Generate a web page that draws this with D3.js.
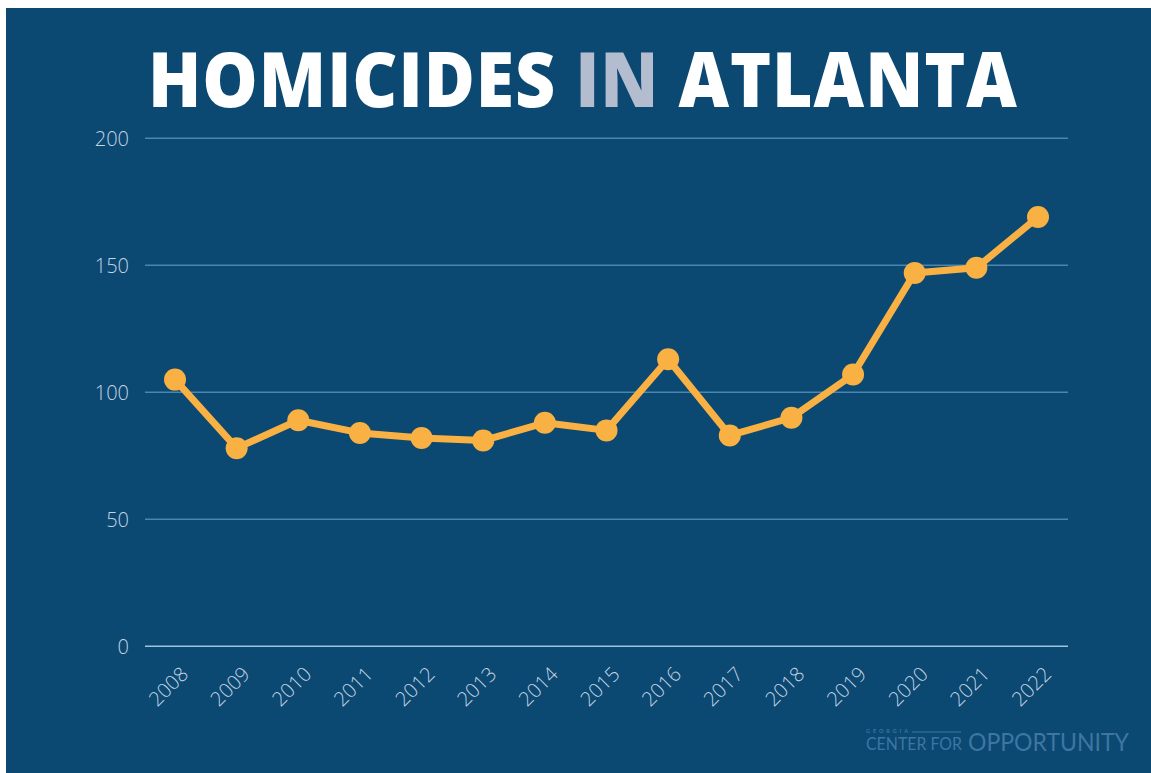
<!DOCTYPE html>
<html>
<head>
<meta charset="utf-8">
<script src="https://cdn.jsdelivr.net/npm/d3@7"></script>
<style>
  html, body { margin: 0; padding: 0; background: #ffffff; }
  svg { display: block; }
</style>
</head>
<body>
<svg id="chart" width="1151" height="773"></svg>
<script>
// Annual homicides recorded in Atlanta
const years = ["2008","2009","2010","2011","2012","2013","2014","2015","2016","2017","2018","2019","2020","2021","2022"];
const homicides = [105, 78, 89, 84, 82, 81, 88, 85, 113, 83, 90, 107, 147, 149, 169];
const yTicks = [0, 50, 100, 150, 200];
const titleParts = [
  { text: "HOMICIDES ", color: "#ffffff" },
  { text: "IN", color: "#b4bdd0" },
  { text: " ATLANTA", color: "#ffffff" }
];

const W = 1151, H = 773;
const svg = d3.select("#chart");

// panel background
svg.append("rect").attr("width", W).attr("height", H).attr("fill", "#ffffff");
svg.append("rect").attr("x", 6).attr("y", 8).attr("width", W - 6).attr("height", H - 8).attr("fill", "#0b4872");

// title
const title = svg.append("text")
  .attr("y", 107)
  .attr("font-family", "'Open Sans', sans-serif")
  .attr("font-weight", 800)
  .attr("font-size", 76)
  .attr("letter-spacing", 1);
title.selectAll("tspan").data(titleParts).join("tspan")
  .attr("fill", d => d.color)
  .attr("xml:space", "preserve")
  .text(d => d.text);
// stretch the title to span its full width
{
  const targetLeft = 148, targetWidth = 870;
  const w = title.node().getComputedTextLength();
  title.attr("transform", `translate(${targetLeft},0) scale(${targetWidth / w},1)`);
}

// scales
const x = d3.scalePoint().domain(years).range([175, 1038]);
const y = d3.scaleLinear().domain([0, 200]).range([646.3, 138.3]);

// horizontal grid
const grid = svg.append("g");
grid.selectAll("line").data(yTicks).join("line")
  .attr("x1", 145).attr("x2", 1068)
  .attr("y1", d => y(d)).attr("y2", d => y(d))
  .attr("stroke", d => d === 0 ? "#9fc4de" : "#4b86ae")
  .attr("stroke-width", 1.5);

// y axis labels
const yAxis = svg.append("g")
  .attr("transform", "translate(129,0)")
  .call(d3.axisLeft(y).tickValues(yTicks).tickSize(0).tickPadding(0));
yAxis.select(".domain").remove();
yAxis.selectAll("text")
  .attr("fill", "#c3d4e3")
  .attr("font-family", "'Open Sans', sans-serif")
  .attr("font-weight", 300)
  .attr("font-size", 20)
  .attr("dy", "0.35em");

// x axis labels, rotated
const xAxis = svg.append("g")
  .attr("transform", "translate(0,646.3)")
  .call(d3.axisBottom(x).tickSize(0).tickPadding(0));
xAxis.select(".domain").remove();
xAxis.selectAll("text")
  .attr("fill", "#c3d4e3")
  .attr("font-family", "'Open Sans', sans-serif")
  .attr("font-weight", 300)
  .attr("font-size", 20)
  .attr("text-anchor", "end")
  .attr("dy", null)
  .attr("y", 0)
  .attr("transform", "translate(14,29) rotate(-45)");

// line and markers
const line = d3.line().x((d, i) => x(years[i])).y(d => y(d));
svg.append("path")
  .datum(homicides)
  .attr("d", line)
  .attr("fill", "none")
  .attr("stroke", "#f9b143")
  .attr("stroke-width", 7)
  .attr("stroke-linejoin", "round");
svg.append("g").selectAll("circle").data(homicides).join("circle")
  .attr("cx", (d, i) => x(years[i]))
  .attr("cy", d => y(d))
  .attr("r", 11)
  .attr("fill", "#f9b143");

// organisation mark
const mark = svg.append("g").attr("fill", "#3e76a1").attr("font-family", "Lato, 'Open Sans', sans-serif");
mark.append("text").attr("x", 866).attr("y", 733).attr("font-size", 5.5)
  .attr("font-weight", 700).attr("textLength", 42).attr("lengthAdjust", "spacing").text("GEORGIA");
mark.append("line").attr("x1", 912).attr("x2", 961).attr("y1", 732).attr("y2", 732)
  .attr("stroke", "#3e76a1").attr("stroke-width", 1.2);
mark.append("text").attr("x", 866).attr("y", 750).attr("font-size", 17)
  .attr("font-weight", 400).attr("textLength", 96).attr("lengthAdjust", "spacingAndGlyphs").text("CENTER FOR");
mark.append("text").attr("x", 968).attr("y", 751).attr("font-size", 25)
  .attr("font-weight", 400).attr("textLength", 161).attr("lengthAdjust", "spacingAndGlyphs").text("OPPORTUNITY");
</script>
</body>
</html>
